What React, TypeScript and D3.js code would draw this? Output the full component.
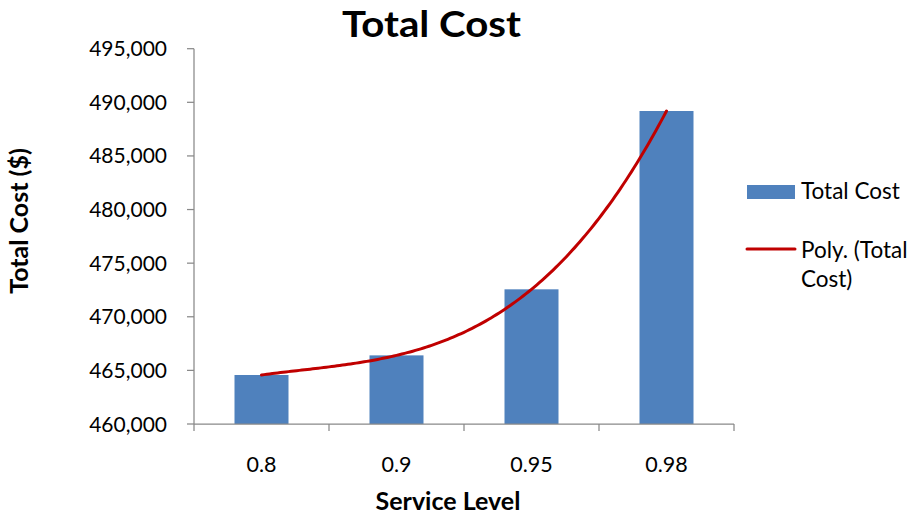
import React from "react";
import * as d3 from "d3";

const categories: string[] = ["0.8", "0.9", "0.95", "0.98"];
const totalCost: number[] = [464570, 466400, 472560, 489190];
const yTicks: number[] = [460000, 465000, 470000, 475000, 480000, 485000, 490000, 495000];

const W = 913;
const H = 515;
const margin = { left: 194, right: 734, top: 48.7, bottom: 424 };
const FONT = "Lato, 'Open Sans', sans-serif";
const BAR = "#4F81BD";
const TREND = "#C00000";
const AXIS = "#898989";

// Least-squares polynomial fit of the given order; returns coefficients c0..cn
function polyFit(xs: number[], ys: number[], order: number): number[] {
  const n = order + 1;
  const A: number[][] = Array.from({ length: n }, () => new Array(n + 1).fill(0));
  for (let r = 0; r < n; r++) {
    for (let c = 0; c < n; c++) {
      A[r][c] = d3.sum(xs, (x) => Math.pow(x, r + c));
    }
    A[r][n] = d3.sum(xs, (x, i) => ys[i] * Math.pow(x, r));
  }
  for (let p = 0; p < n; p++) {
    let best = p;
    for (let r = p + 1; r < n; r++) if (Math.abs(A[r][p]) > Math.abs(A[best][p])) best = r;
    [A[p], A[best]] = [A[best], A[p]];
    for (let r = 0; r < n; r++) {
      if (r === p) continue;
      const f = A[r][p] / A[p][p];
      for (let c = p; c <= n; c++) A[r][c] -= f * A[p][c];
    }
  }
  return A.map((row, i) => row[n] / row[i]);
}

export default function App() {
  const x = d3
    .scaleBand<string>()
    .domain(categories)
    .range([margin.left, margin.right])
    .paddingInner(0.6)
    .paddingOuter(0.3);
  const bandStep = (margin.right - margin.left) / categories.length;
  const xIndex = d3.scaleLinear().domain([0.5, categories.length + 0.5]).range([margin.left, margin.right]);
  const y = d3.scaleLinear().domain([460000, 495000]).range([margin.bottom, margin.top]);

  const idx = categories.map((_, i) => i + 1);
  const coef = polyFit(idx, totalCost, 3);
  const evalPoly = (t: number) => coef.reduce((s, c, k) => s + c * Math.pow(t, k), 0);
  const samples = d3.range(1, categories.length + 0.0001, 0.02);
  const trendPath = d3
    .line<number>()
    .x((t) => xIndex(t))
    .y((t) => y(evalPoly(t)))
    .curve(d3.curveLinear)(samples) as string;

  const fmt = d3.format(",");
  const tickLen = 7;

  return (
    <div style={{ position: "absolute", left: 0, top: 0 }}>
      <svg width={W} height={H} style={{ display: "block", background: "#fff" }}>
        <text
          x={431.5}
          y={37}
          textAnchor="middle"
          fontFamily={FONT}
          fontWeight={700}
          fontSize={37}
          textLength={179}
          lengthAdjust="spacingAndGlyphs"
          fill="#000"
        >
          Total Cost
        </text>

        {/* bars */}
        {categories.map((c, i) => (
          <rect
            key={c}
            x={x(c)}
            y={y(totalCost[i])}
            width={x.bandwidth()}
            height={margin.bottom - y(totalCost[i])}
            fill={BAR}
          />
        ))}

        {/* y axis */}
        <line x1={margin.left} x2={margin.left} y1={margin.top} y2={margin.bottom} stroke={AXIS} strokeWidth={1.25} />
        {yTicks.map((t) => (
          <g key={t}>
            <line x1={margin.left - tickLen} x2={margin.left} y1={y(t)} y2={y(t)} stroke={AXIS} strokeWidth={1.25} />
            <text
              x={167}
              y={y(t)}
              dy="0.36em"
              textAnchor="end"
              fontFamily={FONT}
              fontSize={21}
              fill="#000"
            >
              {fmt(t)}
            </text>
          </g>
        ))}

        {/* x axis */}
        <line x1={margin.left} x2={margin.right} y1={margin.bottom} y2={margin.bottom} stroke={AXIS} strokeWidth={1.25} />
        {d3.range(categories.length + 1).map((i) => (
          <line
            key={i}
            x1={margin.left + i * bandStep}
            x2={margin.left + i * bandStep}
            y1={margin.bottom}
            y2={margin.bottom + tickLen}
            stroke={AXIS}
            strokeWidth={1.25}
          />
        ))}
        {categories.map((c) => (
          <text
            key={c}
            x={(x(c) as number) + x.bandwidth() / 2}
            y={472}
            textAnchor="middle"
            fontFamily={FONT}
            fontSize={21.5}
            fill="#000"
          >
            {c}
          </text>
        ))}

        {/* polynomial trendline */}
        <path d={trendPath} fill="none" stroke={TREND} strokeWidth={3} strokeLinecap="round" />

        {/* axis titles */}
        <text x={448} y={510} textAnchor="middle" fontFamily={FONT} fontWeight={700} fontSize={25} fill="#000">
          Service Level
        </text>
        <text
          transform="translate(28,221) rotate(-90)"
          textAnchor="middle"
          fontFamily={FONT}
          fontWeight={700}
          fontSize={25}
          fill="#000"
        >
          Total Cost ($)
        </text>

        {/* legend */}
        <rect x={747} y={185} width={48} height={14} fill={BAR} />
        <text x={801} y={199} fontFamily={FONT} fontSize={22.5} fill="#000">
          Total Cost
        </text>
        <line x1={747} x2={795} y1={249} y2={249} stroke={TREND} strokeWidth={3} strokeLinecap="round" />
        <text x={801} y={258} fontFamily={FONT} fontSize={22.5} fill="#000">
          Poly. (Total
        </text>
        <text x={801} y={287} fontFamily={FONT} fontSize={22.5} fill="#000">
          Cost)
        </text>
      </svg>
    </div>
  );
}
